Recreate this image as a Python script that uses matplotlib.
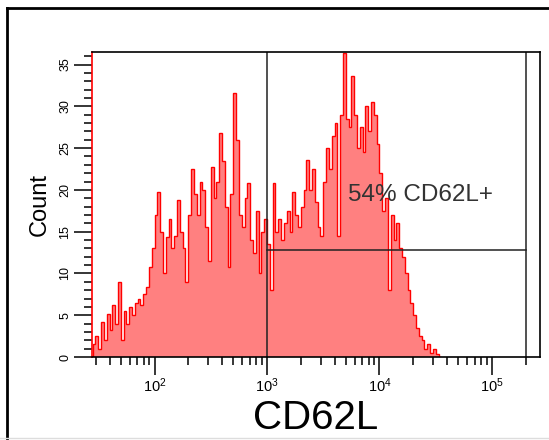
import numpy as np
import matplotlib
matplotlib.use('Agg')
import matplotlib.pyplot as plt
from matplotlib.ticker import LogLocator, FixedLocator, MultipleLocator, FuncFormatter
from matplotlib.lines import Line2D

plt.rcParams['font.family'] = ['Liberation Sans', 'DejaVu Sans']
plt.rcParams['mathtext.default'] = 'regular'

# histogram: log10 bin range and counts per bin
log_start = 1.45
log_step = 0.025
counts = [
    1.5, 2.5, 1.0, 4.2, 2.0, 5.2, 3.2, 6.2, 4.0, 9.0, 2.0, 5.5,
    4.0, 6.0, 5.0, 6.5, 7.0, 6.2, 7.5, 8.4, 10.8, 13.0, 17.0, 19.8,
    15.0, 10.0, 14.4, 16.5, 13.0, 14.5, 18.8, 15.0, 13.0, 9.0, 17.0, 22.5,
    19.5, 17.0, 21.0, 20.0, 15.6, 11.5, 22.7, 19.0, 21.0, 26.8, 23.5, 18.0,
    10.8, 19.5, 31.6, 26.0, 17.0, 15.6, 19.0, 20.8, 14.0, 12.5, 17.5, 10.0,
    15.0, 16.5, 13.5, 8.0, 20.8, 15.0, 16.5, 14.0, 16.0, 17.5, 15.0, 19.8,
    17.0, 15.5, 18.0, 20.0, 23.6, 20.0, 22.5, 18.5, 15.5, 14.5, 21.0, 25.0,
    22.5, 26.5, 28.0, 14.5, 29.0, 36.4, 28.5, 27.5, 33.6, 29.0, 25.0, 27.5,
    24.5, 30.0, 27.0, 30.5, 29.0, 25.5, 22.0, 17.5, 19.0, 8.0, 17.0, 14.0,
    16.0, 13.0, 12.0, 10.0, 8.0, 6.5, 5.0, 3.5, 2.5, 2.0, 1.0, 1.5,
    0.5, 1.0, 0.3, 0.0,
]

# gate
gate_low = 1e3
gate_high = 2e5
gate_level = 12.8
gate_label = '54% CD62L+'
gate_label_pos = (5200, 19.4)

edges = 10 ** (log_start + log_step * np.arange(len(counts) + 1))

fig = plt.figure(figsize=(5.49, 4.40), dpi=100)
ax = fig.add_axes([92 / 549, 1 - 357 / 440, 448 / 549, 305 / 440])

ax.stairs(counts, edges, fill=True, color='#ff8080', lw=0)
ax.stairs(counts, edges, color='#ff0000', lw=1.0)

ax.set_xscale('log')
ax.set_xlim(10 ** 1.444, 10 ** 5.427)
ax.set_ylim(0, 36.5)

# gate lines
ax.axvline(gate_low, color='#222222', lw=1.1)
ax.plot([gate_high, gate_high], [0, 36.5], color='#222222', lw=1.1)
ax.plot([gate_low, gate_high], [gate_level, gate_level], color='#222222', lw=1.1)
ax.text(gate_label_pos[0], gate_label_pos[1], gate_label, fontsize=17.5,
        color='#333333', va='center', ha='left')

# ticks
ax.xaxis.set_major_locator(FixedLocator([1e2, 1e3, 1e4, 1e5]))
ax.xaxis.set_minor_locator(LogLocator(base=10, subs=np.arange(2, 10)))
ax.xaxis.set_major_formatter(FuncFormatter(lambda v, p: r'$10^{%d}$' % round(np.log10(v))))
ax.yaxis.set_major_locator(MultipleLocator(5))
ax.yaxis.set_minor_locator(MultipleLocator(1))
ax.tick_params(axis='both', which='major', direction='out', length=13, width=1.1,
               labelsize=9, pad=2)
ax.tick_params(axis='x', which='major', labelsize=10.5, pad=1)
ax.tick_params(axis='both', which='minor', direction='out', length=6, width=1.1)
for lab in ax.get_yticklabels():
    lab.set_rotation(90)
    lab.set_va('center')

for s in ax.spines.values():
    s.set_linewidth(1.2)
ax.spines['left'].set_color('#ff0000')

ax.set_xlabel('CD62L', fontsize=29, labelpad=2.5)
ax.set_ylabel('Count', fontsize=17, labelpad=6)

# outer frame
fig.add_artist(Line2D([7 / 549, 7 / 549], [0, 1 - 8 / 440], color='black', lw=2,
                      transform=fig.transFigure))
fig.add_artist(Line2D([7 / 549, 1], [1 - 8 / 440, 1 - 8 / 440], color='black', lw=2,
                      transform=fig.transFigure))
fig.add_artist(Line2D([0, 1], [2 / 440, 2 / 440], color='#dddddd', lw=1,
                      transform=fig.transFigure))

fig.savefig('out.png', dpi=100)
